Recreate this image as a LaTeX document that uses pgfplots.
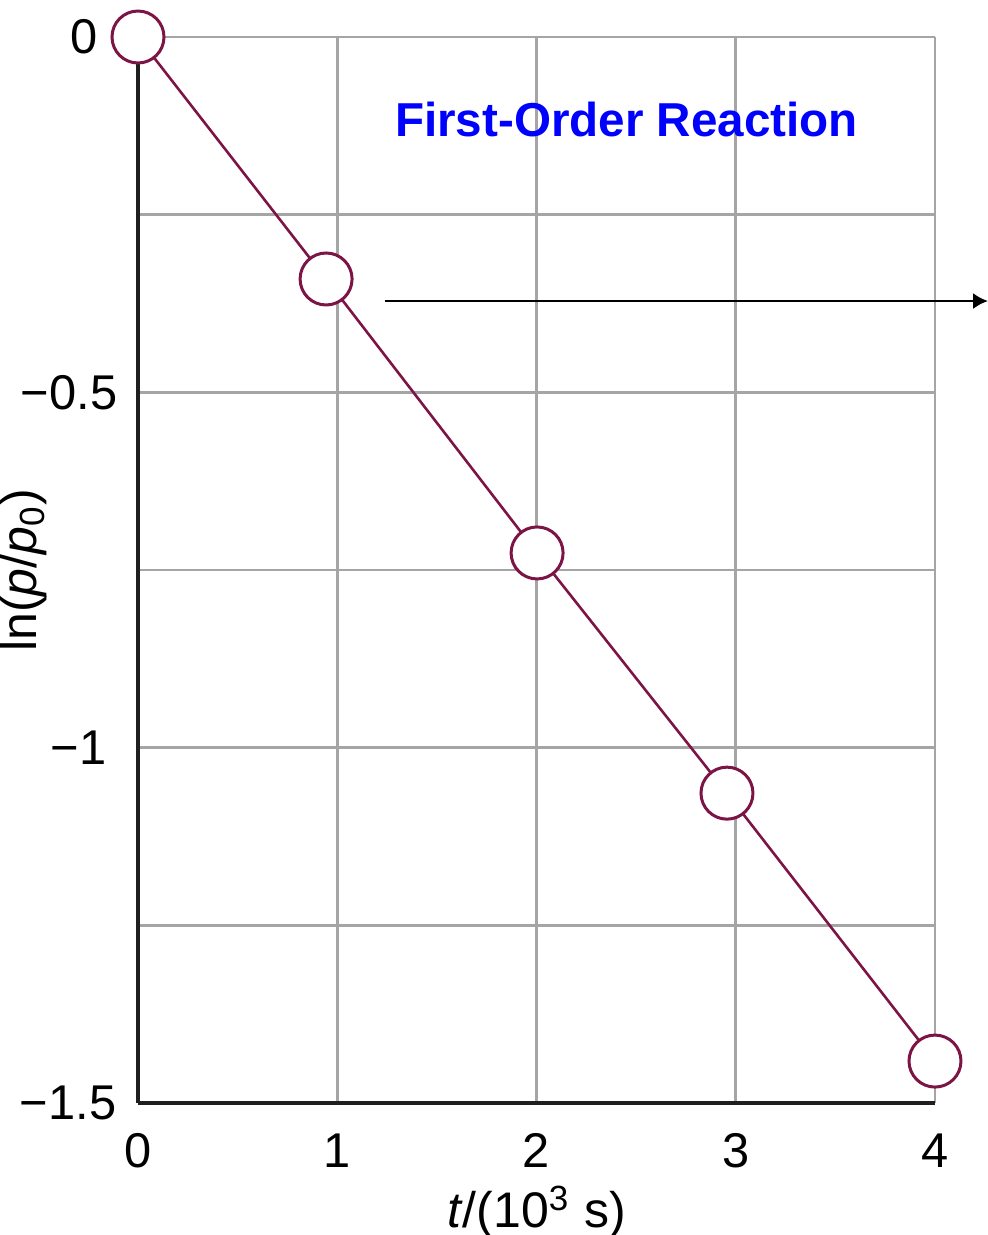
\documentclass[border=0pt]{standalone}
\usepackage{pgfplots}
\pgfplotsset{compat=1.18}
\usepackage{fontspec}
\setmainfont{Liberation Sans}
\usetikzlibrary{arrows.meta}
\definecolor{maroon}{RGB}{125,20,70}
\definecolor{gridgray}{RGB}{165,165,165}
\begin{document}
\begin{tikzpicture}
\useasboundingbox (-34.5pt,-33pt) rectangle (212.5pt,275.75pt);
\begin{axis}[
  at={(0,0)}, anchor=south west,
  scale only axis, width=199.25pt, height=266.5pt,
  xmin=0, xmax=4, ymin=-1.5, ymax=0,
  axis x line*=bottom, axis y line*=left,
  axis line style={line width=0.8pt, color=black!88},
  xtick={0,1,2,3,4}, xticklabels={0,1,2,3,4},
  ytick={-1.5,-1,-0.5,0},
  yticklabels={{−1.5\kern0.25pt}, {−1\kern2.75pt}, {−0.5}, {0\kern5pt}},
  minor ytick={-1.25,-0.75,-0.25},
  grid=both,
  major grid style={gridgray, line width=0.67pt},
  minor grid style={gridgray, line width=0.67pt},
  major tick length=0pt, minor tick length=0pt,
  tick label style={font=\fontsize{12.2}{14}\selectfont},
  xticklabel style={anchor=north, inner sep=0pt, yshift=-7.5pt},
  yticklabel style={anchor=east, inner sep=0pt, xshift=-5pt},
  xlabel={\textit{t}/(10\textsuperscript{3} s)},
  ylabel={ln(\textit{p}/\textit{p}\textsubscript{0})},
  label style={font=\fontsize{12.5}{14}\selectfont},
  xlabel style={at={(axis description cs:0.5,-0.1023)}, anchor=center, inner sep=0pt},
  ylabel style={at={(axis description cs:-0.143,0.5)}, anchor=center, inner sep=0pt},
  clip=false,
]
\addplot[color=maroon, line width=0.65pt, mark=*, mark size=6.5pt,
  mark options={fill=white, draw=maroon, line width=0.75pt}]
  coordinates {(0,0) (0.944,-0.3405) (2.003,-0.726) (2.956,-1.064) (4.0,-1.441)};
\draw[line width=0.67pt, -{Latex[length=3.7pt,width=4pt]}] (axis cs:1.24,-0.3715) -- (axis cs:4.266,-0.3715);
\node[anchor=base, inner sep=0pt, text=blue, font=\bfseries\fontsize{11.9}{14}\selectfont] at (axis cs:2.452,-0.1407) {First-Order Reaction};
\end{axis}
\end{tikzpicture}
\end{document}
